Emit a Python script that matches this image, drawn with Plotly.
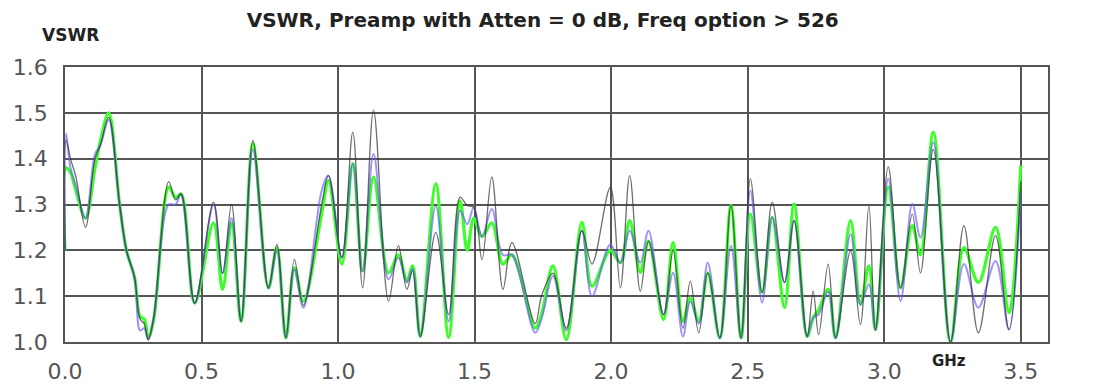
import plotly.graph_objects as go

freq_ghz = [0.000, 0.004, 0.020, 0.040, 0.075, 0.110, 0.130, 0.160, 0.200, 0.225, 0.255, 0.275, 0.290, 0.305, 0.325,
            0.380, 0.405, 0.425, 0.475, 0.544, 0.577, 0.610, 0.645, 0.688, 0.745, 0.776, 0.809, 0.840, 0.873, 0.940,
            0.965, 1.014, 1.054, 1.090, 1.130, 1.185, 1.221, 1.252, 1.273, 1.301, 1.358, 1.405, 1.447, 1.473, 1.497,
            1.527, 1.563, 1.604, 1.637, 1.722, 1.745, 1.787, 1.836, 1.893, 1.930, 1.997, 2.034, 2.068, 2.107, 2.137,
            2.192, 2.227, 2.263, 2.290, 2.321, 2.354, 2.398, 2.439, 2.476, 2.510, 2.553, 2.590, 2.635, 2.670, 2.718,
            2.740, 2.760, 2.795, 2.822, 2.877, 2.913, 2.944, 2.968, 3.015, 3.060, 3.103, 3.133, 3.180, 3.243, 3.292,
            3.345, 3.408, 3.457, 3.500]

vswr_black = [1.20, 1.44, 1.40, 1.36, 1.25, 1.40, 1.43, 1.49, 1.30, 1.20, 1.14, 1.05, 1.04, 1.005, 1.055,
              1.35, 1.31, 1.323, 1.085, 1.305, 1.15, 1.30, 1.045, 1.44, 1.118, 1.213, 1.009, 1.18, 1.08, 1.30,
              1.363, 1.184, 1.458, 1.118, 1.506, 1.089, 1.21, 1.115, 1.155, 1.012, 1.239, 1.06, 1.316, 1.298, 1.294,
              1.18, 1.36, 1.115, 1.217, 1.04, 1.10, 1.15, 1.03, 1.243, 1.17, 1.338, 1.118, 1.363, 1.111, 1.22,
              1.06, 1.199, 1.03, 1.133, 1.02, 1.151, 1.009, 1.298, 1.009, 1.356, 1.108, 1.305, 1.13, 1.265, 1.012,
              1.111, 1.016, 1.17, 1.009, 1.199, 1.038, 1.298, 1.027, 1.382, 1.118, 1.279, 1.151, 1.42, 1.0, 1.254,
              1.02, 1.232, 1.027, 1.35]

vswr_blue = [1.20, 1.455, 1.38, 1.34, 1.27, 1.41, 1.43, 1.485, 1.30, 1.20, 1.14, 1.025, 1.03, 1.005, 1.05,
             1.30, 1.30, 1.323, 1.085, 1.30, 1.15, 1.27, 1.045, 1.42, 1.118, 1.20, 1.009, 1.159, 1.075, 1.33,
             1.363, 1.184, 1.389, 1.155, 1.41, 1.137, 1.184, 1.13, 1.16, 1.012, 1.297, 1.045, 1.287, 1.257, 1.294,
             1.23, 1.29, 1.19, 1.19, 1.02, 1.05, 1.144, 1.025, 1.243, 1.10, 1.213, 1.173, 1.243, 1.173, 1.243,
             1.06, 1.151, 1.012, 1.089, 1.04, 1.173, 1.009, 1.21, 1.009, 1.33, 1.086, 1.272, 1.13, 1.265, 1.012,
             1.053, 1.06, 1.11, 1.009, 1.235, 1.082, 1.126, 1.027, 1.356, 1.089, 1.301, 1.228, 1.436, 1.0, 1.17,
             1.075, 1.177, 1.027, 1.327]

vswr_green = [1.20, 1.38, 1.37, 1.33, 1.27, 1.38, 1.44, 1.50, 1.30, 1.20, 1.14, 1.055, 1.05, 1.01, 1.05,
              1.338, 1.315, 1.323, 1.085, 1.26, 1.115, 1.26, 1.045, 1.433, 1.118, 1.206, 1.009, 1.162, 1.089, 1.28,
              1.352, 1.17, 1.389, 1.155, 1.36, 1.151, 1.19, 1.133, 1.166, 1.012, 1.345, 1.01, 1.308, 1.20, 1.27,
              1.23, 1.26, 1.17, 1.19, 1.03, 1.06, 1.166, 1.005, 1.261, 1.122, 1.20, 1.173, 1.265, 1.152, 1.22,
              1.049, 1.217, 1.045, 1.096, 1.045, 1.151, 1.009, 1.298, 1.009, 1.279, 1.108, 1.272, 1.075, 1.301, 1.012,
              1.053, 1.07, 1.115, 1.009, 1.265, 1.082, 1.166, 1.027, 1.338, 1.118, 1.254, 1.19, 1.458, 1.0, 1.206,
              1.13, 1.25, 1.064, 1.385]

x_ticks = [0.0, 0.5, 1.0, 1.5, 2.0, 2.5, 3.0, 3.5]
y_ticks = [1.0, 1.1, 1.2, 1.3, 1.4, 1.5, 1.6]

FONT = "DejaVu Sans, Verdana, sans-serif"

fig = go.Figure()
fig.add_trace(go.Scatter(x=freq_ghz, y=vswr_green, mode="lines",
                         line=dict(color="#3cff2a", width=3.2, shape="spline", smoothing=1.0), name="Green"))
fig.add_trace(go.Scatter(x=freq_ghz, y=vswr_blue, mode="lines",
                         line=dict(color="#6a5cff", width=2.0, shape="spline", smoothing=1.0), opacity=0.65, name="Blue"))
fig.add_trace(go.Scatter(x=freq_ghz, y=vswr_black, mode="lines",
                         line=dict(color="#333333", width=1.3, shape="spline", smoothing=1.0), opacity=0.7, name="Black"))

axis_common = dict(showline=True, linecolor="#555555", linewidth=1.5, mirror=True,
                   showgrid=True, gridcolor="#555555", gridwidth=1.5, zeroline=False,
                   automargin=False, ticks="",
                   tickfont=dict(family=FONT, size=22, color="#555555"))

# the page body adds an 8 px offset, so the figure is sized/margined to compensate
fig.update_layout(
    width=1095, height=379,
    margin=dict(l=57, r=55, t=59, b=45),
    paper_bgcolor="white", plot_bgcolor="white",
    showlegend=False,
    title=dict(text="<b>VSWR, Preamp with Atten = 0 dB, Freq option > 526</b>",
               x=0.486, xref="paper", xanchor="center", yref="container", y=0.988, yanchor="top",
               font=dict(family=FONT, size=20, color="#222222")),
    xaxis=dict(range=[0, 3.6], tickvals=x_ticks, tickformat=".1f", ticklabelstandoff=9, **axis_common),
    yaxis=dict(range=[1.0, 1.6], tickvals=y_ticks, tickformat=".1f", ticklabelstandoff=11, **axis_common),
    annotations=[
        dict(text="<b>VSWR</b>", xref="paper", yref="paper", x=-0.0254, y=1.116, xanchor="left", yanchor="middle",
             showarrow=False, font=dict(family=FONT, size=17, color="#222222")),
        dict(text="<b>GHz</b>", xref="paper", yref="paper", x=0.899, y=-0.069, xanchor="center", yanchor="middle",
             showarrow=False, font=dict(family=FONT, size=15, color="#222222")),
    ],
)

fig.write_html("out.html")
